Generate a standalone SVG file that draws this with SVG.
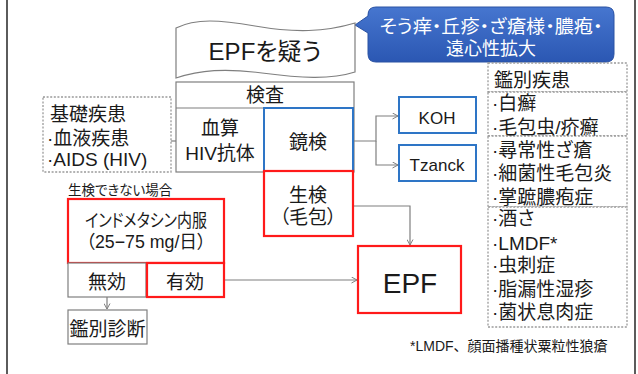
<svg xmlns="http://www.w3.org/2000/svg" width="638" height="374" viewBox="0 0 638 374">
<defs>
<linearGradient id="cg" x1="0" y1="0" x2="0" y2="1">
<stop offset="0" stop-color="#4676CF"/>
<stop offset="1" stop-color="#2B57B3"/>
</linearGradient>
<marker id="ah" markerWidth="7" markerHeight="7" refX="6" refY="3.5" orient="auto" markerUnits="userSpaceOnUse">
<path d="M0.5,0.5 L6,3.5 L0.5,6.5" fill="none" stroke="#7f7f7f" stroke-width="1"/>
</marker>
<style>
text{font-family:"Liberation Sans","Noto Sans CJK JP",sans-serif;fill:#1a1a1a;font-feature-settings:"palt";}
.m{font-size:19px;text-anchor:middle;}
.l{font-size:19px;}
.gray{fill:#fff;stroke:#7f7f7f;stroke-width:1.2;}
.blue{fill:#fff;stroke:#2E75C6;stroke-width:2;}
.red{fill:#fff;stroke:#FF1A1A;stroke-width:2.2;}
.dot{fill:#fff;stroke:#9a9a9a;stroke-width:1.3;stroke-dasharray:2 1.6;}
.con{fill:none;stroke:#7f7f7f;stroke-width:1.2;}
.frame{stroke:#333;stroke-width:1.6;}
</style>
</defs>
<rect width="638" height="374" fill="#fff"/>
<line class="frame" x1="7" y1="0" x2="7" y2="374"/>
<line class="frame" x1="635" y1="0" x2="635" y2="374"/>

<g id="connectors">
<path class="con" d="M176,141 H148" marker-end="url(#ah)"/>
<path class="con" d="M353,141 H376 V116 H398" marker-end="url(#ah)"/>
<path class="con" d="M376,141 V165 H398" marker-end="url(#ah)"/>
<path class="con" d="M353,206 H410 V245" marker-end="url(#ah)"/>
<path class="con" d="M224,280 H357" marker-end="url(#ah)"/>
<path class="con" d="M107,297 V309" marker-end="url(#ah)"/>
</g>

<g id="callout">
<path d="M376,7 H606 Q614,7 614,15 V54 Q614,62 606,62 H376 Q368,62 368,54 V33 L355,25 L368,16 V15 Q368,7 376,7 Z" fill="url(#cg)" stroke="#2A52A3" stroke-width="1"/>
<text x="491" y="33" style="font-size:18px;fill:#fff;text-anchor:middle" textLength="223" lengthAdjust="spacingAndGlyphs">そう痒・丘疹・ざ瘡様・膿疱・</text>
<text x="491" y="55" style="font-size:18px;fill:#fff;text-anchor:middle">遠心性拡大</text>
</g>

<g id="suspect">
<path class="gray" d="M176,28 C196,18 220,20 255,26 C295,33 325,32 355,23 V72 C330,80 300,78 262,73 C225,68 200,70 176,78 Z"/>
<text x="265" y="60" style="font-size:24px;text-anchor:middle">EPFを疑う</text>
</g>

<g id="exam">
<rect class="gray" x="176" y="82" width="178" height="90"/>
<line class="con" x1="176" y1="108" x2="354" y2="108"/>
<text class="m" x="265" y="102">検査</text>
<text class="m" x="220" y="135">血算</text>
<text class="m" x="220" y="160">HIV抗体</text>
</g>

<g id="kyoken">
<rect class="blue" x="264" y="108" width="89" height="63"/>
<text class="m" x="308" y="149">鏡検</text>
</g>

<g id="seiken">
<rect class="red" x="264" y="171" width="89" height="65"/>
<text class="m" x="308" y="202">生検</text>
<text class="m" x="308" y="224">（毛包）</text>
</g>

<g id="kiso">
<rect class="dot" x="43" y="97" width="128" height="75"/>
<text class="l" x="50" y="121">基礎疾患</text>
<text class="l" x="47" y="145">·血液疾患</text>
<text class="l" x="47" y="166">·AIDS (HIV)</text>
</g>

<g id="koh">
<rect class="blue" x="399" y="97" width="77" height="36"/>
<text x="437" y="124" style="font-size:17px;text-anchor:middle">KOH</text>
</g>

<g id="tzanck">
<rect class="blue" x="399" y="145" width="77" height="36"/>
<text x="437" y="171" style="font-size:17px;text-anchor:middle">Tzanck</text>
</g>

<g id="label-noseiken">
<text x="68" y="195" style="font-size:13.5px">生検できない場合</text>
</g>

<g id="indometacin">
<rect class="red" x="68" y="199" width="156" height="64"/>
<text x="146" y="227" style="font-size:18px;text-anchor:middle" textLength="122" lengthAdjust="spacingAndGlyphs">インドメタシン内服</text>
<text x="146" y="248" style="font-size:18px;text-anchor:middle" textLength="120" lengthAdjust="spacingAndGlyphs">（25−75 mg/日）</text>
</g>

<g id="mukou">
<rect class="gray" x="68" y="263" width="78" height="34"/>
<text class="m" x="107" y="289">無効</text>
</g>

<g id="yukou">
<rect class="red" x="147" y="263" width="77" height="34"/>
<text class="m" x="185" y="289">有効</text>
</g>

<g id="kanbetsu-shindan">
<rect class="gray" x="68" y="310" width="79" height="34"/>
<text class="m" x="107.5" y="336">鑑別診断</text>
</g>

<g id="epf">
<rect class="red" x="358" y="246" width="103" height="67"/>
<text x="410" y="293" style="font-size:28px;text-anchor:middle">EPF</text>
</g>

<g id="kanbetsu-list">
<rect class="dot" x="488" y="63" width="139" height="29"/>
<rect class="dot" x="488" y="92" width="139" height="44"/>
<rect class="dot" x="488" y="136" width="139" height="71"/>
<rect class="dot" x="488" y="207" width="139" height="120"/>
<text class="l" x="494" y="87">鑑別疾患</text>
<text class="l" x="492" y="110">·白癬</text>
<text class="l" x="492" y="134">·毛包虫/疥癬</text>
<text class="l" x="492" y="157">·尋常性ざ瘡</text>
<text class="l" x="492" y="180">·細菌性毛包炎</text>
<text class="l" x="492" y="204">·掌蹠膿疱症</text>
<text class="l" x="492" y="225">·酒さ</text>
<text class="l" x="492" y="250">·LMDF*</text>
<text class="l" x="492" y="272">·虫刺症</text>
<text class="l" x="492" y="296">·脂漏性湿疹</text>
<text class="l" x="492" y="319">·菌状息肉症</text>
</g>

<g id="footnote">
<text x="410" y="351" style="font-size:14px;font-feature-settings:normal">*LMDF、顔面播種状粟粒性狼瘡</text>
</g>
</svg>
